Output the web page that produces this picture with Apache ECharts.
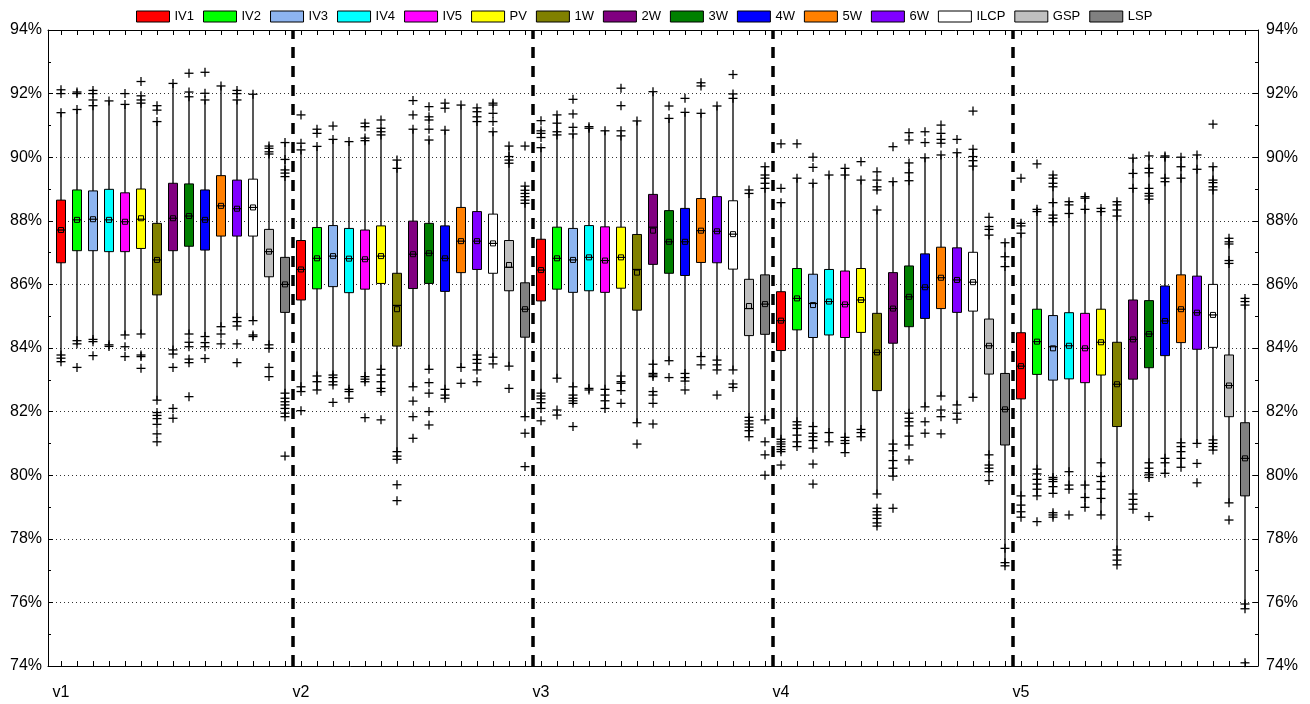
<!DOCTYPE html>
<html><head><meta charset="utf-8">
<script src="https://cdn.jsdelivr.net/npm/echarts@6/dist/echarts.min.js"></script>
<style>html,body{margin:0;padding:0;background:#fff}#c{width:1310px;height:704px}</style>
</head><body><div id="c"></div>
<script>
const groups = ['v1', 'v2', 'v3', 'v4', 'v5'];
const methods = ['IV1', 'IV2', 'IV3', 'IV4', 'IV5', 'PV', '1W', '2W', '3W', '4W', '5W', '6W', 'ILCP', 'GSP', 'LSP'];
const colors = ['#ff0000', '#00ff00', '#8db4f0', '#00ffff', '#ff00ff', '#ffff00', '#808000', '#800080', '#008000', '#0000ff', '#ff8000', '#8000ff', '#ffffff', '#c0c0c0', '#808080'];
const yTicks = [74, 76, 78, 80, 82, 84, 86, 88, 90, 92, 94];

// each box: [lowWhisker, q1, median, q3, highWhisker, mean]
const boxV1 = [
  [83.57, 86.68, 87.71, 88.65, 91.4, 87.71],
  [84.23, 87.06, 88.03, 88.97, 91.5, 88.03],
  [84.27, 87.06, 88.05, 88.94, 91.62, 88.05],
  [84.1, 87.03, 88.03, 88.99, 91.77, 88.03],
  [84.41, 87.03, 87.97, 88.88, 91.66, 87.97],
  [84.44, 87.13, 88.05, 89.0, 91.7, 88.08],
  [82.36, 85.67, 86.77, 87.92, 91.12, 86.77],
  [83.94, 87.06, 88.08, 89.18, 92.32, 88.08],
  [84.44, 87.2, 88.15, 89.16, 91.9, 88.15],
  [84.36, 87.08, 88.03, 88.97, 91.8, 88.03],
  [84.67, 87.52, 88.47, 89.42, 92.24, 88.47],
  [84.96, 87.52, 88.38, 89.28, 91.8, 88.38],
  [84.86, 87.52, 88.42, 89.31, 91.98, 88.42],
  [84.1, 86.24, 87.03, 87.73, 90.35, 87.03],
  [81.84, 85.12, 86.0, 86.85, 90.46, 86.0]
];
const outV1 = [
  [92.12, 92.0, 91.4, 83.78, 83.68, 83.57],
  [92.05, 92.0, 91.5, 84.23, 84.13, 83.39],
  [92.1, 92.0, 91.8, 91.62, 84.27, 84.2, 83.76],
  [91.77, 84.1, 84.05],
  [92.0, 91.66, 84.41, 84.04, 83.73],
  [92.38, 91.93, 91.8, 91.7, 84.44, 83.78, 83.73, 83.36],
  [91.62, 91.48, 91.12, 82.36, 81.97, 81.88, 81.78, 81.6, 81.3, 81.05],
  [92.32, 83.94, 83.81, 83.39, 82.1, 81.79],
  [92.64, 92.05, 91.9, 84.44, 84.18, 84.04, 83.65, 83.54, 82.47],
  [92.67, 92.01, 91.8, 84.36, 84.17, 84.04, 83.67],
  [92.24, 84.67, 84.44, 84.13],
  [92.1, 92.0, 91.8, 84.96, 84.83, 84.69, 84.13, 83.54],
  [91.98, 84.86, 84.41, 84.36],
  [90.35, 90.28, 90.17, 90.1, 84.1, 83.99, 83.39, 83.1],
  [90.46, 89.93, 89.6, 89.5, 89.39, 82.58, 82.42, 82.31, 82.21, 82.1, 81.95, 81.84, 80.6]
];

const boxV2 = [
  [82.63, 85.51, 86.47, 87.38, 90.23, 86.47],
  [82.68, 85.86, 86.82, 87.79, 90.34, 86.82],
  [82.84, 85.93, 86.89, 87.85, 90.56, 86.89],
  [82.63, 85.74, 86.81, 87.76, 90.49, 86.81],
  [82.94, 85.85, 86.79, 87.71, 90.52, 86.79],
  [82.63, 86.03, 86.89, 87.84, 90.7, 86.89],
  [80.74, 84.06, 85.34, 86.35, 89.91, 85.22],
  [82.78, 85.87, 86.95, 87.99, 90.88, 86.95],
  [83.33, 86.03, 86.98, 87.92, 90.54, 86.98],
  [82.42, 85.78, 86.82, 87.84, 90.85, 86.82],
  [83.39, 86.37, 87.36, 88.42, 91.64, 87.36],
  [83.31, 86.47, 87.36, 88.29, 91.12, 87.36],
  [83.71, 86.35, 87.29, 88.21, 90.8, 87.29],
  [83.43, 85.8, 86.54, 87.38, 90.35, 86.61],
  [81.84, 84.34, 85.22, 86.05, 89.09, 85.22]
];
const outV2 = [
  [91.33, 90.44, 90.23, 82.78, 82.63, 82.03],
  [90.88, 90.75, 90.34, 83.12, 82.94, 82.68],
  [90.98, 90.56, 83.15, 83.07, 82.94, 82.84, 82.29],
  [90.49, 82.7, 82.63, 82.42],
  [91.07, 90.96, 90.6, 90.52, 83.1, 83.02, 82.94, 81.81],
  [91.17, 90.91, 90.8, 90.7, 83.33, 83.15, 82.94, 82.73, 82.63, 81.74],
  [89.91, 89.65, 80.74, 80.6, 80.5, 79.7, 79.2],
  [91.78, 91.33, 90.88, 82.78, 82.33, 81.84, 81.16],
  [91.59, 91.27, 91.17, 90.88, 90.54, 83.33, 82.91, 82.58, 82.0, 81.58],
  [91.7, 91.54, 90.85, 82.7, 82.52, 82.42],
  [91.64, 83.39, 82.89],
  [91.55, 91.43, 91.27, 91.12, 83.78, 83.64, 83.52, 83.31, 82.94],
  [91.7, 91.64, 91.38, 91.12, 90.8, 83.71, 83.5],
  [90.35, 90.02, 89.91, 89.81, 83.43, 82.73],
  [90.35, 89.09, 88.96, 88.86, 88.76, 88.65, 88.55, 81.84, 81.32, 80.27]
];

const boxV3 = [
  [82.1, 85.48, 86.45, 87.42, 90.3, 86.45],
  [83.05, 85.85, 86.82, 87.8, 91.33, 86.82],
  [82.26, 85.75, 86.77, 87.76, 90.73, 86.77],
  [82.68, 85.8, 86.85, 87.85, 90.91, 86.85],
  [82.1, 85.75, 86.75, 87.81, 90.83, 86.75],
  [82.66, 85.88, 86.85, 87.8, 90.67, 86.85],
  [81.65, 85.19, 86.47, 87.57, 91.14, 86.37],
  [83.1, 86.63, 87.8, 88.83, 92.06, 87.69],
  [83.6, 86.35, 87.34, 88.32, 91.22, 87.34],
  [82.96, 86.28, 87.34, 88.39, 91.41, 87.34],
  [83.73, 86.69, 87.69, 88.7, 91.38, 87.69],
  [83.62, 86.68, 87.67, 88.76, 91.61, 87.67],
  [83.31, 86.48, 87.58, 88.63, 91.85, 87.58],
  [81.21, 84.39, 85.24, 86.16, 88.86, 85.32],
  [81.74, 84.43, 85.38, 86.3, 89.7, 85.38]
];
const outV3 = [
  [91.15, 90.83, 90.75, 90.62, 90.3, 82.58, 82.49, 82.4, 82.28, 82.1, 81.71],
  [91.33, 91.07, 90.8, 90.7, 83.05, 82.05, 81.89],
  [91.82, 91.36, 90.94, 90.73, 82.78, 82.52, 82.42, 82.34, 82.26, 81.53],
  [90.96, 90.91, 82.73, 82.68],
  [90.83, 82.7, 82.52, 82.34, 82.1],
  [92.17, 91.62, 90.83, 90.67, 83.12, 82.94, 82.89, 82.66, 82.26],
  [91.14, 81.65, 80.98],
  [92.06, 83.49, 83.2, 83.15, 83.1, 82.63, 82.52, 82.26, 81.61],
  [91.61, 91.22, 83.6, 83.07],
  [91.85, 91.41, 83.2, 83.07, 82.96, 82.68],
  [92.34, 92.24, 91.38, 83.73, 83.47],
  [91.61, 83.62, 83.47, 83.31, 82.52],
  [92.6, 91.99, 91.85, 83.31, 82.87, 82.76],
  [88.97, 88.86, 81.82, 81.71, 81.61, 81.51, 81.4, 81.21],
  [89.7, 89.44, 89.34, 89.18, 89.02, 81.74, 81.05, 80.64, 80.0]
];

const boxV4 = [
  [80.74, 83.92, 84.86, 85.77, 88.57, 84.86],
  [80.9, 84.57, 85.56, 86.5, 89.34, 85.56],
  [80.85, 84.33, 85.4, 86.32, 89.18, 85.35],
  [81.05, 84.41, 85.46, 86.47, 89.44, 85.46],
  [80.71, 84.33, 85.37, 86.42, 89.65, 85.37],
  [81.21, 84.49, 85.51, 86.5, 89.28, 85.51],
  [79.41, 82.66, 83.86, 85.09, 88.34, 83.86],
  [79.97, 84.15, 85.24, 86.37, 89.23, 85.24],
  [80.95, 84.67, 85.61, 86.58, 89.82, 85.61],
  [82.15, 84.93, 85.91, 86.96, 89.98, 85.91],
  [82.49, 85.24, 86.21, 87.17, 90.07, 86.21],
  [82.21, 85.12, 86.14, 87.15, 90.14, 86.14],
  [82.45, 85.16, 86.07, 87.01, 90.25, 86.07],
  [80.11, 83.18, 84.07, 84.91, 87.55, 84.07],
  [77.2, 80.95, 82.07, 83.2, 87.31, 82.07]
];
const outV4 = [
  [90.42, 89.02, 88.57, 81.13, 81.05, 80.98, 80.9, 80.81, 80.74, 80.32],
  [90.42, 89.34, 81.68, 81.58, 81.47, 81.26, 81.05, 80.9],
  [90.0, 89.68, 89.18, 81.53, 81.32, 81.21, 81.09, 80.85, 80.35, 79.72],
  [89.44, 81.34, 81.05],
  [89.65, 89.44, 81.19, 81.09, 81.0, 80.71],
  [89.86, 89.28, 81.44, 81.34, 81.21],
  [89.54, 89.28, 89.07, 88.97, 88.34, 79.41, 78.96, 78.85, 78.75, 78.64, 78.5, 78.4],
  [90.33, 89.23, 80.98, 80.77, 80.46, 80.22, 79.97, 78.96],
  [90.77, 90.54, 89.82, 89.51, 89.26, 81.95, 81.79, 81.68, 81.55, 81.23, 80.95, 80.48],
  [90.8, 90.46, 89.98, 82.15, 81.68, 81.32],
  [91.01, 90.75, 90.56, 90.44, 90.07, 82.49, 82.05, 81.84, 81.3],
  [90.56, 90.14, 82.21, 81.95, 81.76],
  [91.45, 90.25, 90.02, 89.89, 89.72, 82.45],
  [88.11, 87.82, 87.73, 87.55, 80.64, 80.32, 80.22, 80.11, 79.83],
  [87.31, 86.87, 86.56, 77.7, 77.25, 77.15]
];

const boxV5 = [
  [78.68, 82.4, 83.43, 84.48, 87.61, 83.43],
  [79.35, 83.17, 84.2, 85.22, 88.36, 84.2],
  [79.43, 82.99, 84.04, 85.02, 89.44, 83.99],
  [79.56, 83.03, 84.07, 85.11, 88.6, 84.07],
  [78.99, 82.91, 83.99, 85.09, 88.76, 83.99],
  [78.75, 83.15, 84.18, 85.22, 88.39, 84.18],
  [77.65, 81.53, 82.86, 84.18, 88.6, 82.86],
  [79.41, 83.02, 84.27, 85.51, 89.97, 84.27],
  [79.93, 83.38, 84.44, 85.49, 90.04, 84.44],
  [80.06, 83.76, 84.85, 85.95, 90.0, 84.85],
  [80.25, 84.17, 85.22, 86.3, 90.0, 85.22],
  [81.0, 83.96, 85.11, 86.26, 90.07, 85.11],
  [80.79, 84.02, 85.04, 86.0, 89.7, 85.04],
  [79.13, 81.84, 82.82, 83.78, 87.45, 82.82],
  [75.8, 79.35, 80.53, 81.65, 85.35, 80.53]
];
const outV5 = [
  [89.34, 87.92, 87.84, 87.61, 79.35, 79.06, 78.85, 78.68],
  [89.79, 88.36, 88.29, 80.19, 80.04, 79.87, 79.72, 79.56, 79.35, 78.54],
  [89.44, 89.34, 89.18, 89.07, 88.57, 88.18, 88.08, 87.97, 79.93, 79.87, 79.8, 79.64, 79.43, 78.82, 78.75, 78.68],
  [88.6, 88.5, 88.23, 80.11, 79.69, 79.56, 78.75],
  [88.76, 88.71, 88.36, 79.69, 79.3, 78.99],
  [88.39, 88.29, 80.39, 79.96, 79.8, 79.56, 79.27, 78.75],
  [88.6, 88.5, 88.34, 88.15, 77.65, 77.49, 77.33, 77.18],
  [89.97, 89.49, 89.02, 79.41, 79.24, 79.09, 78.93],
  [90.04, 89.65, 89.51, 89.02, 88.86, 88.78, 88.68, 80.39, 80.22, 80.08, 80.01, 79.93, 78.7],
  [90.04, 90.0, 89.34, 89.23, 80.53, 80.39, 80.06],
  [90.0, 89.7, 89.34, 81.02, 80.9, 80.74, 80.53, 80.25],
  [90.07, 89.62, 81.0, 80.37, 79.76],
  [91.04, 89.7, 89.28, 89.2, 89.07, 88.97, 81.11, 81.0, 80.9, 80.79],
  [87.45, 87.34, 87.27, 86.75, 86.66, 79.13, 78.59],
  [85.56, 85.46, 85.35, 75.95, 75.8, 74.1]
];

const boxesByGroup = [boxV1, boxV2, boxV3, boxV4, boxV5];
const outliersByGroup = [outV1, outV2, outV3, outV4, outV5];

const nM = methods.length;
const nCat = groups.length * nM;
const categories = [];
groups.forEach(g => methods.forEach(m => categories.push(g + ' ' + m)));

const FONT = 'Liberation Sans, Arial, Helvetica, sans-serif';

function renderBox(params, api) {
  const x = api.value(0);
  const pLo = api.coord([x, api.value(1)]);
  const pQ1 = api.coord([x, api.value(2)]);
  const pMed = api.coord([x, api.value(3)]);
  const pQ3 = api.coord([x, api.value(4)]);
  const pHi = api.coord([x, api.value(5)]);
  const pMean = api.coord([x, api.value(6)]);
  const cx = pQ1[0];
  const hw = 4.5;
  return {
    type: 'group',
    children: [
      { type: 'line', shape: { x1: cx, y1: pHi[1], x2: cx, y2: pLo[1] }, style: { stroke: '#111', lineWidth: 1.4 } },
      { type: 'rect', shape: { x: cx - hw, y: pQ3[1], width: 2 * hw, height: pQ1[1] - pQ3[1] },
        style: { fill: api.visual('color'), stroke: '#000', lineWidth: 1 } },
      { type: 'line', shape: { x1: cx - hw, y1: pMed[1], x2: cx + hw, y2: pMed[1] }, style: { stroke: '#000', lineWidth: 1.2 } },
      { type: 'rect', shape: { x: pMean[0] - 2.5, y: pMean[1] - 2.5, width: 5, height: 5 },
        style: { fill: 'none', stroke: '#000', lineWidth: 1 } }
    ]
  };
}

function renderPlus(params, api) {
  const p = api.coord([api.value(0), api.value(1)]);
  const a = 4.5;
  return {
    type: 'group',
    children: [
      { type: 'line', shape: { x1: p[0] - a, y1: p[1], x2: p[0] + a, y2: p[1] }, style: { stroke: '#000', lineWidth: 1.3 } },
      { type: 'line', shape: { x1: p[0], y1: p[1] - a, x2: p[0], y2: p[1] + a }, style: { stroke: '#000', lineWidth: 1.3 } }
    ]
  };
}

const series = [];
methods.forEach((m, mi) => {
  series.push({
    name: m,
    type: 'custom',
    xAxisIndex: 1,
    yAxisIndex: 2,
    itemStyle: { color: colors[mi], borderColor: '#000', borderWidth: 1 },
    renderItem: renderBox,
    encode: { x: 0, y: [1, 2, 3, 4, 5, 6] },
    data: groups.map((g, gi) => [gi * nM + mi].concat(boxesByGroup[gi][mi])),
    z: 3
  });
});

const outlierData = [];
groups.forEach((g, gi) => methods.forEach((m, mi) => {
  outliersByGroup[gi][mi].forEach(v => outlierData.push([gi * nM + mi, v]));
}));
series.push({
  name: 'outliers',
  type: 'custom',
  xAxisIndex: 1,
  yAxisIndex: 2,
  renderItem: renderPlus,
  encode: { x: 0, y: 1 },
  data: outlierData,
  z: 4
});

// group separators
series.push({
  name: 'separators',
  type: 'line',
  xAxisIndex: 0,
  yAxisIndex: 0,
  data: [],
  silent: true,
  markLine: {
    silent: true,
    symbol: 'none',
    label: { show: false },
    lineStyle: { color: '#000', width: 3.5, type: [11, 8] },
    data: groups.slice(1).map((g, i) => ({ xAxis: (i + 1) * nM - 0.5 }))
  },
  z: 5
});

const yCommon = {
  type: 'value',
  gridIndex: 0,
  min: yTicks[0],
  max: yTicks[yTicks.length - 1],
  interval: yTicks[1] - yTicks[0],
  axisLine: { show: true, onZero: false, lineStyle: { color: '#000', width: 1 } },
  axisTick: { show: true, inside: true, length: 5, lineStyle: { color: '#000' } },
  minorTick: { show: true, splitNumber: 2, length: 3, lineStyle: { color: '#000' } },
  axisLabel: { formatter: '{value}%', fontSize: 16, color: '#000', fontFamily: FONT }
};

const option = {
  animation: false,
  backgroundColor: '#fff',
  textStyle: { fontFamily: FONT },
  legend: {
    left: 131,
    top: 5,
    itemWidth: 33,
    itemHeight: 11,
    itemGap: 9,
    icon: 'rect',
    selectedMode: false,
    textStyle: { fontSize: 13, color: '#000', fontFamily: FONT },
    data: methods.map((m, i) => ({ name: m, itemStyle: { color: colors[i], borderColor: '#000', borderWidth: 1 } }))
  },
  grid: [
    { left: 48, right: 52, top: 30, bottom: 38 },
    { left: 53, right: 57, top: 30, bottom: 38 }
  ],
  xAxis: [
    { type: 'value', gridIndex: 0, position: 'bottom', min: -0.8125, max: nCat - 1 + 0.8125,
      axisLine: { show: true, onZero: false, lineStyle: { color: '#000' } },
      axisTick: { show: false }, axisLabel: { show: false }, splitLine: { show: false } },
    { type: 'category', gridIndex: 1, position: 'bottom', data: categories, boundaryGap: true,
      axisLine: { show: false },
      axisTick: { show: true, inside: true, length: 5, alignWithLabel: true, interval: 0, lineStyle: { color: '#000' } },
      axisLabel: { interval: 0, margin: 19, fontSize: 16, color: '#000', fontFamily: FONT,
        formatter: (val, idx) => (idx % nM === 0 ? groups[idx / nM] : '') },
      splitLine: { show: false } },
    { type: 'value', gridIndex: 0, position: 'top', min: -0.8125, max: nCat - 1 + 0.8125,
      axisLine: { show: true, onZero: false, lineStyle: { color: '#000' } },
      axisTick: { show: false }, axisLabel: { show: false }, splitLine: { show: false } },
    { type: 'category', gridIndex: 1, position: 'top', data: categories, boundaryGap: true,
      axisLine: { show: false },
      axisTick: { show: true, inside: true, length: 5, alignWithLabel: true, interval: 0, lineStyle: { color: '#000' } },
      axisLabel: { show: false }, splitLine: { show: false } }
  ],
  yAxis: [
    Object.assign({}, yCommon, { position: 'left', axisLabel: Object.assign({}, yCommon.axisLabel, { margin: 6 }),
      splitLine: { show: true, lineStyle: { color: '#333', width: 1, type: [1, 3] } } }),
    Object.assign({}, yCommon, { position: 'right', axisLabel: Object.assign({}, yCommon.axisLabel, { margin: 8 }),
      splitLine: { show: false } }),
    { type: 'value', gridIndex: 1, min: yTicks[0], max: yTicks[yTicks.length - 1], show: false }
  ],
  series: series
};

const chart = echarts.init(document.getElementById('c'), null, { renderer: 'canvas' });
chart.setOption(option);
</script>
</body></html>
